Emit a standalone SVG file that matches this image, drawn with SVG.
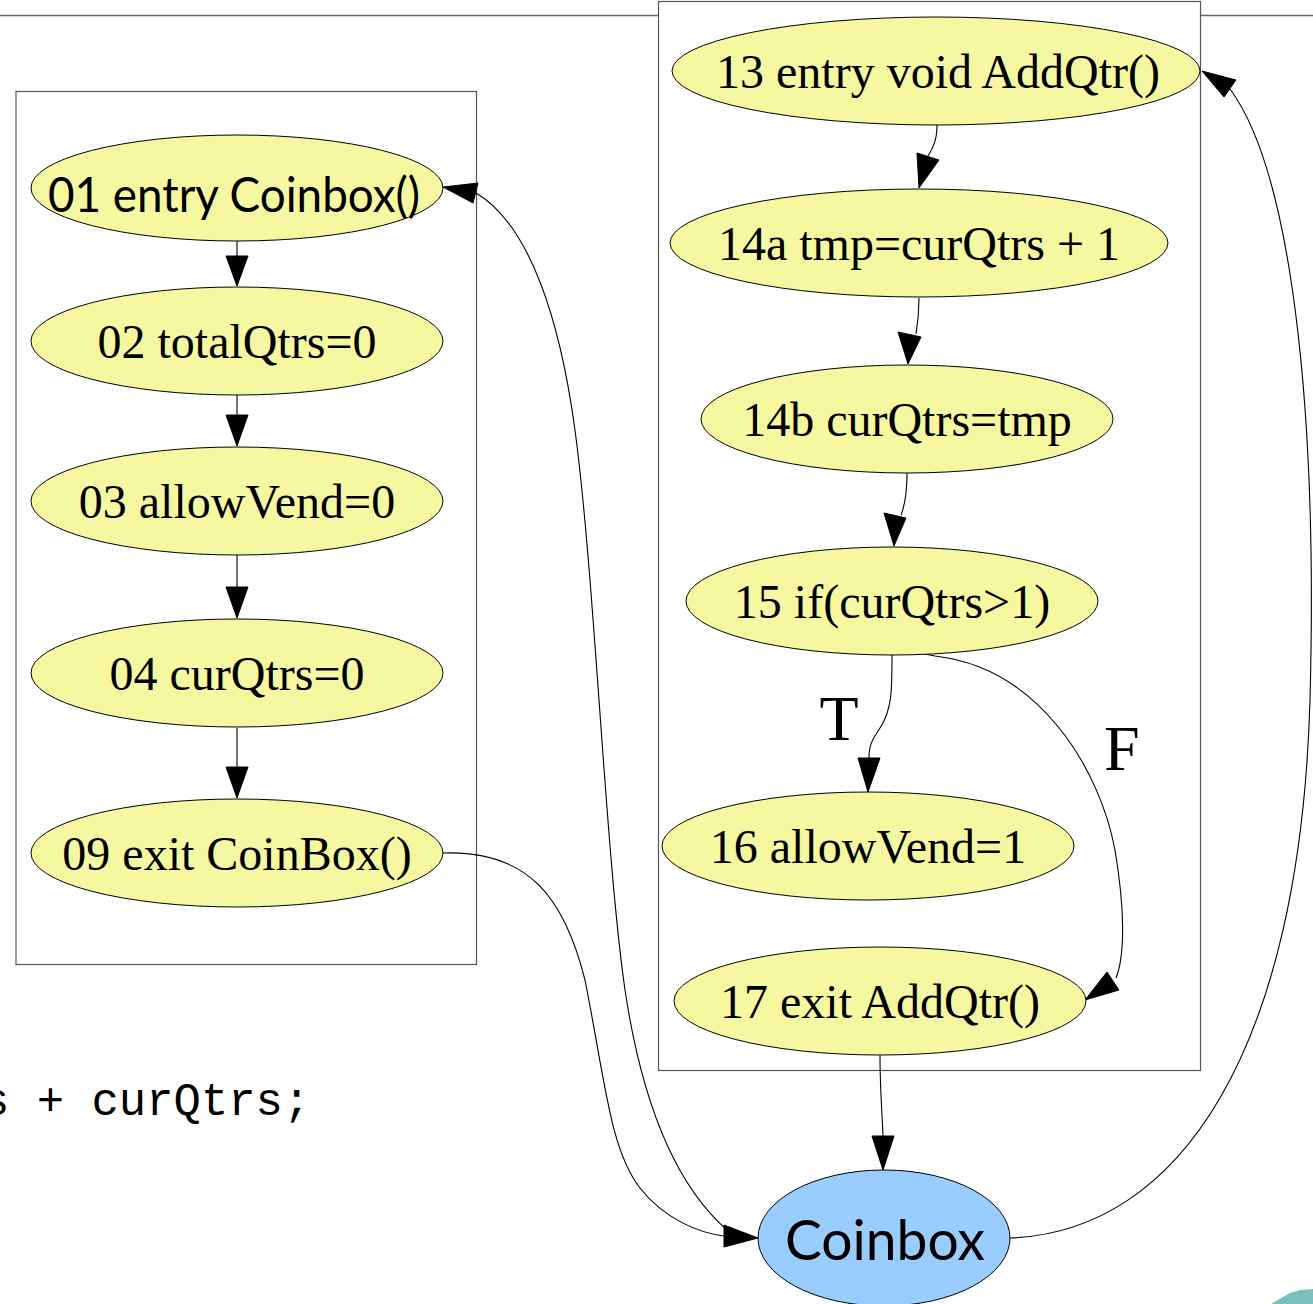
<svg xmlns="http://www.w3.org/2000/svg" width="1313" height="1304" viewBox="0 0 1313 1304">
<style>
.cluster{fill:#ffffff;stroke:#555555;stroke-width:1.2}
.node{fill:#f5f8a0;stroke:#000000;stroke-width:1}
.start{fill:#99ccff;stroke:#000000;stroke-width:1}
.t{font-family:"Liberation Serif","Times New Roman",serif;font-size:48px;text-anchor:middle;fill:#000}
.s{font-family:Lato,"Open Sans","Liberation Sans",sans-serif;text-anchor:middle;fill:#000}
.lbl{font-family:"Liberation Serif","Times New Roman",serif;font-size:64px;fill:#000}
.e{fill:none;stroke:#000;stroke-width:1.1}
.ah{fill:#000;stroke:#000;stroke-width:1}
.code{font-family:"Liberation Mono","Courier New",monospace;font-size:45.6px;fill:#000}
</style>
<rect width="1313" height="1304" fill="#ffffff"/>
<line x1="0" y1="15.5" x2="1313" y2="15.5" stroke="#666666" stroke-width="1.5"/>
<text class="code" x="-18" y="1115">s + curQtrs;</text>
<polygon points="1271,1304 1290,1293 1300,1290 1313,1289 1313,1304" fill="#7bbfbd"/>
<g id="cluster_coinbox_ctor"><rect class="cluster" x="16" y="91.5" width="460.5" height="873"/></g>
<g id="cluster_addqtr"><rect class="cluster" x="658.5" y="1.5" width="542" height="1069"/></g>
<g id="connectors">
<path class="e" d="M237,240 L237,256"/><polygon class="ah" points="226,256 248,256 237,286"/>
<path class="e" d="M237,395 L237,415"/><polygon class="ah" points="226,415 248,415 237,446"/>
<path class="e" d="M237,555 L237,587"/><polygon class="ah" points="226,587 248,587 237,618"/>
<path class="e" d="M237,728 L237,767"/><polygon class="ah" points="226,767 248,767 237,798"/>
<path class="e" d="M937,125 C937,140 933,148 928,156"/><polygon class="ah" points="917,153 939,160 919,188"/>
<path class="e" d="M919,298 C919,312 918,322 916,334"/><polygon class="ah" points="898,332 921,337 908,364"/>
<path class="e" d="M907,473 C907,493 905,505 901,515"/><polygon class="ah" points="884,513 906,518 894,546"/>
<path class="e" d="M892,655 C892,690 892,710 880,728 C872,740 869,745 869,758"/><polygon class="ah" points="858,758 880,758 868,792"/>
<text class="lbl" x="839" y="740" text-anchor="middle">T</text>
<path class="e" d="M890,655 C895,651 915,652 935,656 C1040,668 1100,770 1115,850 C1125,910 1125,955 1116,978"/><polygon class="ah" points="1107,972 1119,990 1085,1000"/>
<text class="lbl" x="1104" y="770">F</text>
<path class="e" d="M880,1055 C880,1090 882,1110 883,1136"/><polygon class="ah" points="872,1136 894,1136 883,1170"/>
<path class="e" d="M443,853 C530,850 565,900 585,980 C605,1080 610,1150 640,1188 C665,1220 700,1233 724,1236"/><polygon class="ah" points="724,1225 724,1247 758,1238"/>
<path class="e" d="M727,1230 C670,1180 640,1090 625,990 C605,850 595,580 575,430 C560,320 530,225 476,193"/><polygon class="ah" points="478,183 473,203 443,187"/>
<path class="e" d="M1010,1238 C1180,1232 1300,1050 1310,700 C1318,400 1290,170 1230,89"/><polygon class="ah" points="1236,80 1224,97 1202,71"/>
</g>
<g id="n01"><ellipse class="node" cx="237" cy="188" rx="206" ry="53"/><text class="s" x="234" y="212" font-size="48" textLength="372" lengthAdjust="spacingAndGlyphs">01 entry Coinbox()</text></g>
<g id="n02"><ellipse class="node" cx="237" cy="341" rx="206" ry="54"/><text class="t" x="237" y="358">02 totalQtrs=0</text></g>
<g id="n03"><ellipse class="node" cx="237" cy="501" rx="206" ry="54"/><text class="t" x="237" y="518">03 allowVend=0</text></g>
<g id="n04"><ellipse class="node" cx="237" cy="673" rx="206" ry="54"/><text class="t" x="237" y="690">04 curQtrs=0</text></g>
<g id="n09"><ellipse class="node" cx="237" cy="853" rx="206" ry="54"/><text class="t" x="237" y="870">09 exit CoinBox()</text></g>
<g id="n13"><ellipse class="node" cx="936" cy="71" rx="264" ry="54"/><text class="t" x="938" y="88">13 entry void AddQtr()</text></g>
<g id="n14a"><ellipse class="node" cx="919" cy="243" rx="249" ry="54"/><text class="t" x="919" y="260">14a tmp=curQtrs + 1</text></g>
<g id="n14b"><ellipse class="node" cx="907" cy="419" rx="206" ry="54"/><text class="t" x="907" y="436">14b curQtrs=tmp</text></g>
<g id="n15"><ellipse class="node" cx="892" cy="601" rx="206" ry="54"/><text class="t" x="892" y="618">15 if(curQtrs&gt;1)</text></g>
<g id="n16"><ellipse class="node" cx="868" cy="846" rx="206" ry="54"/><text class="t" x="868" y="863">16 allowVend=1</text></g>
<g id="n17"><ellipse class="node" cx="880" cy="1001" rx="206" ry="54"/><text class="t" x="880" y="1018">17 exit AddQtr()</text></g>
<g id="coinbox"><ellipse class="start" cx="884" cy="1238" rx="126" ry="68"/><text class="s" x="885" y="1260" font-size="56" textLength="200" lengthAdjust="spacingAndGlyphs">Coinbox</text></g>
</svg>
